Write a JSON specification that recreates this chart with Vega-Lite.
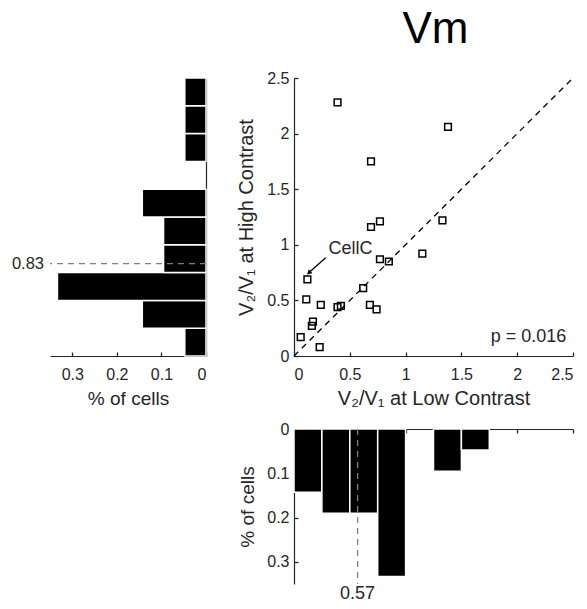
{
  "$schema": "https://vega.github.io/schema/vega-lite/v6.json",
  "background": "white",
  "padding": {"left": 11, "top": 8, "right": 5, "bottom": 5},
  "config": {
    "font": "Liberation Sans",
    "view": {"stroke": null},
    "axis": {
      "grid": false,
      "domainColor": "#262626",
      "tickColor": "#262626",
      "labelColor": "#262626",
      "titleColor": "#262626",
      "labelFont": "Liberation Sans",
      "titleFont": "Liberation Sans",
      "labelFontSize": 16,
      "titleFontSize": 19,
      "titleFontWeight": "normal",
      "ticks": true,
      "tickSize": -4,
      "labelPadding": 9,
      "domainWidth": 1.2,
      "tickWidth": 1.3,
      "zindex": 1
    },
    "axisBottom": {"labelPadding": 14}
  },
  "datasets": {
    "pts": [
      {"low": 0.39, "high": 2.28}, {"low": 1.38, "high": 2.06}, {"low": 0.69, "high": 1.75},
      {"low": 0.77, "high": 1.21}, {"low": 0.69, "high": 1.16}, {"low": 1.33, "high": 1.22},
      {"low": 1.15, "high": 0.92}, {"low": 0.77, "high": 0.87}, {"low": 0.85, "high": 0.85},
      {"low": 0.12, "high": 0.69}, {"low": 0.62, "high": 0.61}, {"low": 0.11, "high": 0.51},
      {"low": 0.24, "high": 0.46}, {"low": 0.39, "high": 0.44}, {"low": 0.42, "high": 0.45},
      {"low": 0.68, "high": 0.46}, {"low": 0.74, "high": 0.42}, {"low": 0.17, "high": 0.31},
      {"low": 0.16, "high": 0.27}, {"low": 0.06, "high": 0.17}, {"low": 0.23, "high": 0.08}
    ],
    "diag": [{"low": 0, "high": 0}, {"low": 2.5, "high": 2.5}],
    "arrow": [{"low": 0.284, "high": 0.883}, {"low": 0.14, "high": 0.755}],
    "histHigh": [
      {"lo": 0, "hi": 0.25, "pct": 0.0476},
      {"lo": 0.25, "hi": 0.5, "pct": 0.1429},
      {"lo": 0.5, "hi": 0.75, "pct": 0.3333},
      {"lo": 0.75, "hi": 1.0, "pct": 0.0952},
      {"lo": 1.0, "hi": 1.25, "pct": 0.0952},
      {"lo": 1.25, "hi": 1.5, "pct": 0.1429},
      {"lo": 1.75, "hi": 2.0, "pct": 0.0476},
      {"lo": 2.0, "hi": 2.25, "pct": 0.0476},
      {"lo": 2.25, "hi": 2.5, "pct": 0.0476}
    ],
    "histLow": [
      {"lo": 0, "hi": 0.25, "pct": 0.1429},
      {"lo": 0.25, "hi": 0.5, "pct": 0.1905},
      {"lo": 0.5, "hi": 0.75, "pct": 0.1905},
      {"lo": 0.75, "hi": 1.0, "pct": 0.3333},
      {"lo": 1.25, "hi": 1.5, "pct": 0.0952},
      {"lo": 1.5, "hi": 1.75, "pct": 0.0476}
    ]
  },
  "bounds": "flush",
  "align": "each",
  "columns": 2,
  "spacing": {"row": 73, "column": 88},
  "concat": [
    {
      "width": 156,
      "height": 278,
      "layer": [
        {
          "data": {"name": "histHigh"},
          "mark": {"type": "bar", "color": "black", "stroke": "white", "strokeWidth": 1.5},
          "encoding": {
            "y": {"field": "lo", "type": "quantitative", "scale": {"domain": [0, 2.5], "nice": false, "zero": false},
                  "axis": {"orient": "right", "labels": false, "ticks": false, "title": null}},
            "y2": {"field": "hi"},
            "x": {"field": "pct", "type": "quantitative", "scale": {"domain": [0, 0.35], "reverse": true, "nice": false},
                  "axis": {"values": [0, 0.1, 0.2, 0.3], "format": "~g", "title": "% of cells", "titlePadding": 7}},
            "x2": {"datum": 0}
          }
        },
        {
          "data": {"values": [{"median": 0.83}]},
          "mark": {"type": "rule", "color": "#7f7f7f", "strokeDash": [6, 5], "strokeWidth": 1.3},
          "encoding": {"y": {"field": "median", "type": "quantitative"}}
        },
        {
          "data": {"values": [{"median": 0.83, "label": "0.83"}]},
          "mark": {"type": "text", "align": "right", "baseline": "middle", "dx": -6, "fontSize": 16.5, "color": "#262626"},
          "encoding": {
            "y": {"field": "median", "type": "quantitative"},
            "x": {"datum": 0.35},
            "text": {"field": "label"}
          }
        }
      ]
    },
    {
      "width": 279,
      "height": 278,
      "title": {"text": "Vm", "fontSize": 44, "fontWeight": "normal", "font": "Liberation Sans", "color": "black", "anchor": "middle", "frame": "group", "offset": 18, "dx": 2},
      "layer": [
        {
          "data": {"name": "diag"},
          "mark": {"type": "line", "color": "black", "strokeDash": [6, 5], "strokeWidth": 1.3},
          "encoding": {
            "x": {"field": "low", "type": "quantitative", "scale": {"domain": [0, 2.5], "nice": false},
                  "axis": {"values": [0, 0.5, 1, 1.5, 2, 2.5], "format": "~g", "title": "V₂/V₁ at Low Contrast", "titleFontSize": 20, "titlePadding": 6}},
            "y": {"field": "high", "type": "quantitative", "scale": {"domain": [0, 2.5], "nice": false},
                  "axis": {"values": [0, 0.5, 1, 1.5, 2, 2.5], "format": "~g", "title": "V₂/V₁ at High Contrast", "titleFontSize": 20, "titlePadding": 10}}
          }
        },
        {
          "data": {"name": "pts"},
          "mark": {"type": "point", "shape": "square", "filled": false, "color": "black", "strokeWidth": 1.5, "size": 45, "opacity": 1},
          "encoding": {
            "x": {"field": "low", "type": "quantitative"},
            "y": {"field": "high", "type": "quantitative"}
          }
        },
        {
          "data": {"name": "arrow"},
          "mark": {"type": "line", "color": "black", "strokeWidth": 1.3},
          "encoding": {
            "x": {"field": "low", "type": "quantitative"},
            "y": {"field": "high", "type": "quantitative"}
          }
        },
        {
          "data": {"values": [{"low": 0.133, "high": 0.748}]},
          "mark": {"type": "point", "shape": "triangle-up", "filled": true, "color": "black", "size": 30, "angle": 228, "opacity": 1},
          "encoding": {
            "x": {"field": "low", "type": "quantitative"},
            "y": {"field": "high", "type": "quantitative"}
          }
        },
        {
          "data": {"values": [{"low": 0.31, "high": 0.96, "label": "CellC"}]},
          "mark": {"type": "text", "align": "left", "baseline": "middle", "fontSize": 18, "color": "#262626"},
          "encoding": {
            "x": {"field": "low", "type": "quantitative"},
            "y": {"field": "high", "type": "quantitative"},
            "text": {"field": "label"}
          }
        },
        {
          "data": {"values": [{"low": 2.44, "high": 0.17, "label": "p = 0.016"}]},
          "mark": {"type": "text", "align": "right", "baseline": "middle", "fontSize": 18, "color": "#262626"},
          "encoding": {
            "x": {"field": "low", "type": "quantitative"},
            "y": {"field": "high", "type": "quantitative"},
            "text": {"field": "label"}
          }
        }
      ]
    },
    {
      "width": 156,
      "height": 155,
      "data": {"values": [{}]},
      "mark": {"type": "text", "text": ""},
      "encoding": {}
    },
    {
      "width": 279,
      "height": 155,
      "layer": [
        {
          "data": {"name": "histLow"},
          "mark": {"type": "bar", "color": "black", "stroke": "white", "strokeWidth": 1.5},
          "encoding": {
            "x": {"field": "lo", "type": "quantitative", "scale": {"domain": [0, 2.5], "nice": false, "zero": false},
                  "axis": {"orient": "top", "labels": false, "values": [0, 0.5, 1, 1.5, 2, 2.5], "title": null}},
            "x2": {"field": "hi"},
            "y": {"field": "pct", "type": "quantitative", "scale": {"domain": [0, 0.35], "reverse": true, "nice": false},
                  "axis": {"values": [0, 0.1, 0.2, 0.3], "format": "~g", "title": "% of cells", "titlePadding": 9}},
            "y2": {"datum": 0}
          }
        },
        {
          "data": {"values": [{"median": 0.57}]},
          "mark": {"type": "rule", "color": "#7f7f7f", "strokeDash": [6, 5], "strokeWidth": 1.3},
          "encoding": {"x": {"field": "median", "type": "quantitative"}}
        },
        {
          "data": {"values": [{"median": 0.57, "label": "0.57"}]},
          "mark": {"type": "text", "align": "center", "baseline": "top", "dy": 1, "fontSize": 18, "color": "#262626"},
          "encoding": {
            "x": {"field": "median", "type": "quantitative"},
            "y": {"datum": 0.35},
            "text": {"field": "label"}
          }
        }
      ]
    }
  ]
}
